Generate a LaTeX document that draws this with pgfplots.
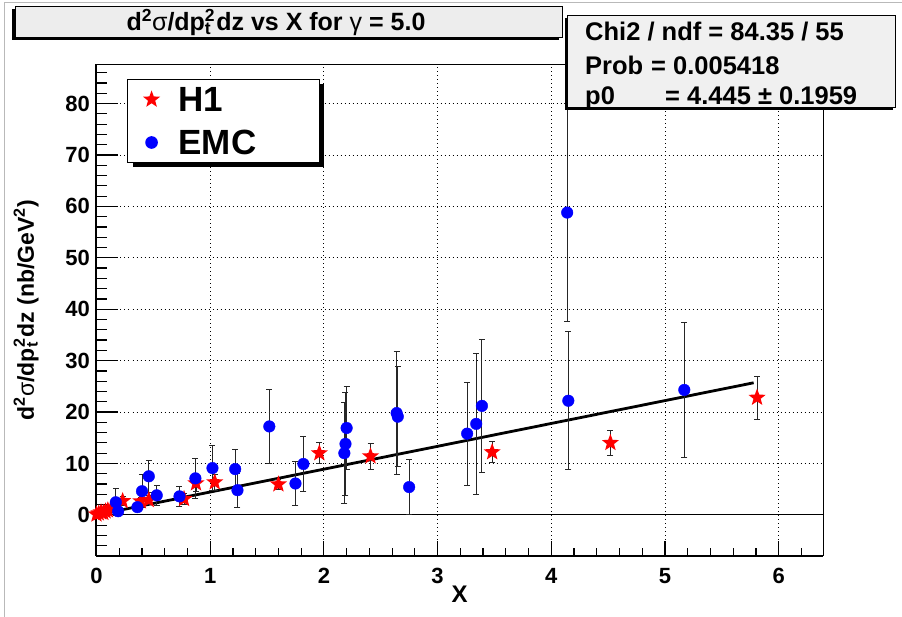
\documentclass[border=0pt]{standalone}
\usepackage{fontspec}
\setmainfont{Liberation Sans}
\usepackage{pgfplots}
\usepackage{pgfplotstable}
\pgfplotsset{compat=1.18}
\usetikzlibrary{shadows}

\pgfdeclareplotmark{fstar}{%
  \pgfpathmoveto{\pgfpointpolar{90}{\pgfplotmarksize}}%
  \pgfpathlineto{\pgfpointpolar{126}{0.42\pgfplotmarksize}}%
  \pgfpathlineto{\pgfpointpolar{162}{\pgfplotmarksize}}%
  \pgfpathlineto{\pgfpointpolar{198}{0.42\pgfplotmarksize}}%
  \pgfpathlineto{\pgfpointpolar{234}{\pgfplotmarksize}}%
  \pgfpathlineto{\pgfpointpolar{270}{0.42\pgfplotmarksize}}%
  \pgfpathlineto{\pgfpointpolar{306}{\pgfplotmarksize}}%
  \pgfpathlineto{\pgfpointpolar{342}{0.42\pgfplotmarksize}}%
  \pgfpathlineto{\pgfpointpolar{18}{\pgfplotmarksize}}%
  \pgfpathlineto{\pgfpointpolar{54}{0.42\pgfplotmarksize}}%
  \pgfpathclose
  \pgfusepathqfill}

\pgfplotstableread{
x y e
0.00 0.10 0.3
0.02 0.30 0.3
0.04 0.50 0.4
0.06 0.40 0.4
0.08 0.70 0.5
0.10 0.90 0.5
0.13 1.30 0.6
0.23 2.70 0.8
0.39 2.65 0.8
0.46 2.90 0.9
0.77 3.10 1.0
0.875 6.15 1.5
1.04 6.35 1.6
1.60 5.95 1.0
1.96 12.0 2.0
2.41 11.4 2.5
3.48 12.2 2.1
4.52 14.0 2.5
5.81 22.8 4.2
}\hone

\pgfplotstableread{
x y e
0.17 2.45 2.6
0.19 0.70 0.5
0.36 1.50 0.8
0.40 4.60 3.2
0.46 7.50 3.1
0.53 3.80 1.9
0.73 3.60 2.0
0.87 7.10 3.9
1.02 9.10 4.4
1.22 8.90 3.9
1.24 4.80 3.3
1.52 17.2 7.2
1.75 6.10 4.3
1.82 9.90 5.4
2.18 12.0 9.8
2.19 13.8 10.0
2.20 16.9 8.0
2.64 19.8 12.0
2.65 19.1 9.7
2.75 5.40 5.4
3.26 15.8 10.0
3.34 17.7 13.7
3.39 21.2 13.0
4.15 22.2 13.4
4.14 58.8 21.2
5.17 24.3 13.2
}\emc

\begin{document}
\begin{tikzpicture}
\path[use as bounding box] (0pt,0pt) rectangle (902pt,617pt);
\draw[gray!55, line width=1pt] (4pt,0pt) -- (4pt,614.3pt) -- (902pt,614.3pt);

\begin{axis}[
  at={(96.5pt,61pt)}, anchor=south west,
  scale only axis, width=726.5pt, height=491.5pt,
  xmin=0, xmax=6.39, ymin=-8, ymax=87.6,
  xtick={0,1,...,7}, ytick={-10,0,10,...,90},
  minor x tick num=4, minor y tick num=4,
  axis x line*=bottom, axis y line*=left,
  axis line style={line width=2pt},
  tick align=inside,
  tick style={black, line width=1.2pt},
  xtick style={/pgfplots/major tick length=15pt,/pgfplots/minor tick length=7.5pt},
  ytick style={/pgfplots/major tick length=21pt,/pgfplots/minor tick length=10.5pt},
  grid=major,
  major grid style={black, line width=0.9pt, dash pattern=on 1pt off 3pt},
  /pgf/number format/assume math mode=true,
  ticklabel style={font=\fontsize{22}{22}\selectfont\bfseries},
  yticklabel style={inner sep=0pt, anchor=east, xshift=-6.5pt},
  xticklabel style={inner sep=0pt, anchor=north, yshift=-12pt},
  xlabel={X},
  xlabel style={at={(rel axis cs:0.5,0)}, anchor=base, inner sep=0pt, yshift=-47pt, font=\fontsize{24}{24}\selectfont\bfseries},
  ylabel={d\textsuperscript{2}{\mdseries σ}/dp\makebox[0pt][l]{\textsuperscript{2}}\textsubscript{t}\hspace{0.2em}dz (nb/GeV\textsuperscript{2})},
  ylabel style={at={(rel axis cs:0,0.5)}, anchor=base, inner sep=0pt, yshift=62.5pt, font=\fontsize{23}{23}\selectfont\bfseries},
  legend style={at={(axis description cs:0.042,0.9705)}, anchor=north west,
    draw=black, line width=1pt, fill=white,
    font=\fontsize{35}{38}\selectfont\bfseries,
    inner xsep=15.5pt, inner ysep=0pt, row sep=3pt, column sep=18.5pt,
    nodes={inner sep=0pt, text height=32pt, text depth=8pt},
    drop shadow={shadow xshift=5pt, shadow yshift=-5pt, fill=black, opacity=1}},
  legend cell align=left,
  clip=false,
]
\draw[black, line width=0.8pt] (rel axis cs:0,1) -- (rel axis cs:1,1) -- (rel axis cs:1,0);
\draw[black, line width=1pt] ({rel axis cs:0,0}|-{axis cs:0,0}) -- ({rel axis cs:1,0}|-{axis cs:0,0});

\addplot[black, line width=2.8pt, no marks, forget plot] coordinates {(0,0) (5.78,25.69)};

\addplot[only marks, mark=fstar, mark size=9pt, color=red, mark options={fill=red, draw=red},
  error bars/.cd, y dir=both, y explicit,
  error bar style={black!85, line width=0.9pt},
  error mark options={rotate=90, mark size=3pt, black!85, line width=0.9pt}]
  table[x=x, y=y, y error=e] {\hone};
\addlegendentry{\makebox[125pt][l]{H1}}

\addplot[only marks, mark=*, mark size=5.8pt, color=blue, mark options={fill=blue, draw=blue},
  error bars/.cd, y dir=both, y explicit,
  error bar style={black!85, line width=0.9pt},
  error mark options={rotate=90, mark size=3pt, black!85, line width=0.9pt}]
  table[x=x, y=y, y error=e] {\emc};
\addlegendentry{\makebox[125pt][l]{EMC}}
\end{axis}

\begin{scope}[x=1pt,y=1pt]
% title box
\node[draw=black, line width=1pt, fill=black!7, minimum width=547pt, minimum height=31pt, inner sep=0pt, anchor=north west,
  drop shadow={shadow xshift=-3pt, shadow yshift=-3pt, fill=black, opacity=1}] at (14.6,611) {};
\node[anchor=base, inner sep=0pt, font=\fontsize{25}{25}\selectfont\bfseries] at (276,586)
  {d\textsuperscript{2}{\mdseries σ}/dp\makebox[0pt][l]{\textsuperscript{2}}\textsubscript{t}\hspace{0.2em}dz vs X for {\mdseries γ} = 5.0};

% stats box
\node[draw=black, line width=1pt, fill=black!6, minimum width=328pt, minimum height=92pt, inner sep=0pt, anchor=north west,
  drop shadow={shadow xshift=-3pt, shadow yshift=-3pt, fill=black, opacity=1}] at (567,602) {};
\begin{scope}[every node/.style={anchor=base west, inner sep=0pt, font=\fontsize{25.5}{25.5}\selectfont\bfseries}]
\node at (585,576) {Chi2 / ndf = 84.35 / 55};
\node at (585,542) {Prob};
\node at (651,542) {= 0.005418};
\node at (585,512) {p0};
\node at (665,512) {= 4.445 ± 0.1959};
\end{scope}
\end{scope}
\end{tikzpicture}
\end{document}
